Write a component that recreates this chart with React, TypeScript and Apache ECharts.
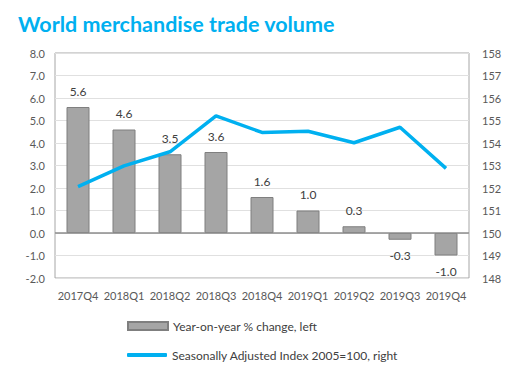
import React, { useEffect, useRef } from "react";
import * as echarts from "echarts";

const categories = ["2017Q4", "2018Q1", "2018Q2", "2018Q3", "2018Q4", "2019Q1", "2019Q2", "2019Q3", "2019Q4"];
const yoyChange = [5.6, 4.6, 3.5, 3.6, 1.6, 1.0, 0.3, -0.3, -1.0];
const seasonalIndex = [152.06, 152.98, 153.61, 155.21, 154.47, 154.52, 154.01, 154.7, 152.87];
const barName = "Year-on-year % change, left";
const lineName = "Seasonally Adjusted Index 2005=100, right";

const FONT = "Lato, 'Noto Sans', sans-serif";

export default function App() {
  const ref = useRef<HTMLDivElement>(null);
  useEffect(() => {
    if (!ref.current) return;
    const chart = echarts.init(ref.current, undefined, { renderer: "svg" });
    chart.setOption({
      animation: false,
      textStyle: { fontFamily: FONT },
      title: {
        text: "World merchandise trade volume",
        left: 13,
        top: 8,
        textStyle: { color: "#00b0f0", fontSize: 21.5, fontWeight: "bold", fontFamily: FONT },
      },
      legend: [
        {
          left: 127,
          top: 320,
          padding: 0,
          itemWidth: 40,
          itemHeight: 8,
          textStyle: { color: "#404040", fontSize: 12, fontFamily: FONT },
          data: [{ name: barName, icon: "rect" }],
        },
        {
          left: 127,
          top: 349,
          padding: 0,
          itemWidth: 40,
          itemHeight: 4,
          textStyle: { color: "#404040", fontSize: 12, fontFamily: FONT },
          data: [{ name: lineName, icon: "roundRect", itemStyle: { color: "#00b0f0", borderWidth: 0 } }],
        },
      ],
      grid: {
        left: 55,
        right: 54,
        top: 53,
        bottom: 92,
        show: true,
        borderColor: "#a6a6a6",
        borderWidth: 1,
        backgroundColor: "transparent",
      },
      xAxis: {
        type: "category",
        data: categories,
        axisLine: { show: false },
        axisTick: { show: false },
        axisLabel: { color: "#595959", fontSize: 11, margin: 12, interval: 0 },
      },
      yAxis: [
        {
          type: "value",
          min: -2,
          max: 8,
          interval: 1,
          axisLine: { show: false },
          axisTick: { show: false },
          axisLabel: { color: "#595959", fontSize: 11, margin: 10, formatter: (v: number) => v.toFixed(1) },
          splitLine: { lineStyle: { color: "#e0e0e0", width: 1 } },
        },
        {
          type: "value",
          min: 148,
          max: 158,
          interval: 1,
          axisLine: { show: false },
          axisTick: { show: false },
          axisLabel: { color: "#595959", fontSize: 11, margin: 13 },
          splitLine: { show: false },
        },
      ],
      series: [
        {
          name: barName,
          type: "bar",
          data: yoyChange.map((v) => ({
            value: v,
            label: { position: v >= 0 ? "top" : "bottom" },
          })),
          barWidth: "50%",
          itemStyle: { color: "#a5a5a5", borderColor: "#7f7f7f", borderWidth: 1 },
          label: {
            show: true,
            distance: 10,
            color: "#404040",
            fontSize: 12,
            formatter: (p: any) => Number(p.value).toFixed(1),
          },
          markLine: {
            silent: true,
            symbol: "none",
            label: { show: false },
            lineStyle: { color: "#8c8c8c", width: 1.5, type: "solid" },
            data: [{ yAxis: 0 }],
          },
          z: 2,
        },
        {
          name: lineName,
          type: "line",
          yAxisIndex: 1,
          data: seasonalIndex,
          symbol: "none",
          lineStyle: { color: "#00b0f0", width: 3.5 },
          itemStyle: { color: "#00b0f0" },
          z: 3,
        },
      ],
    });
    return () => chart.dispose();
  }, []);
  return <div ref={ref} style={{ width: 523, height: 370, margin: -8 }} />;
}
